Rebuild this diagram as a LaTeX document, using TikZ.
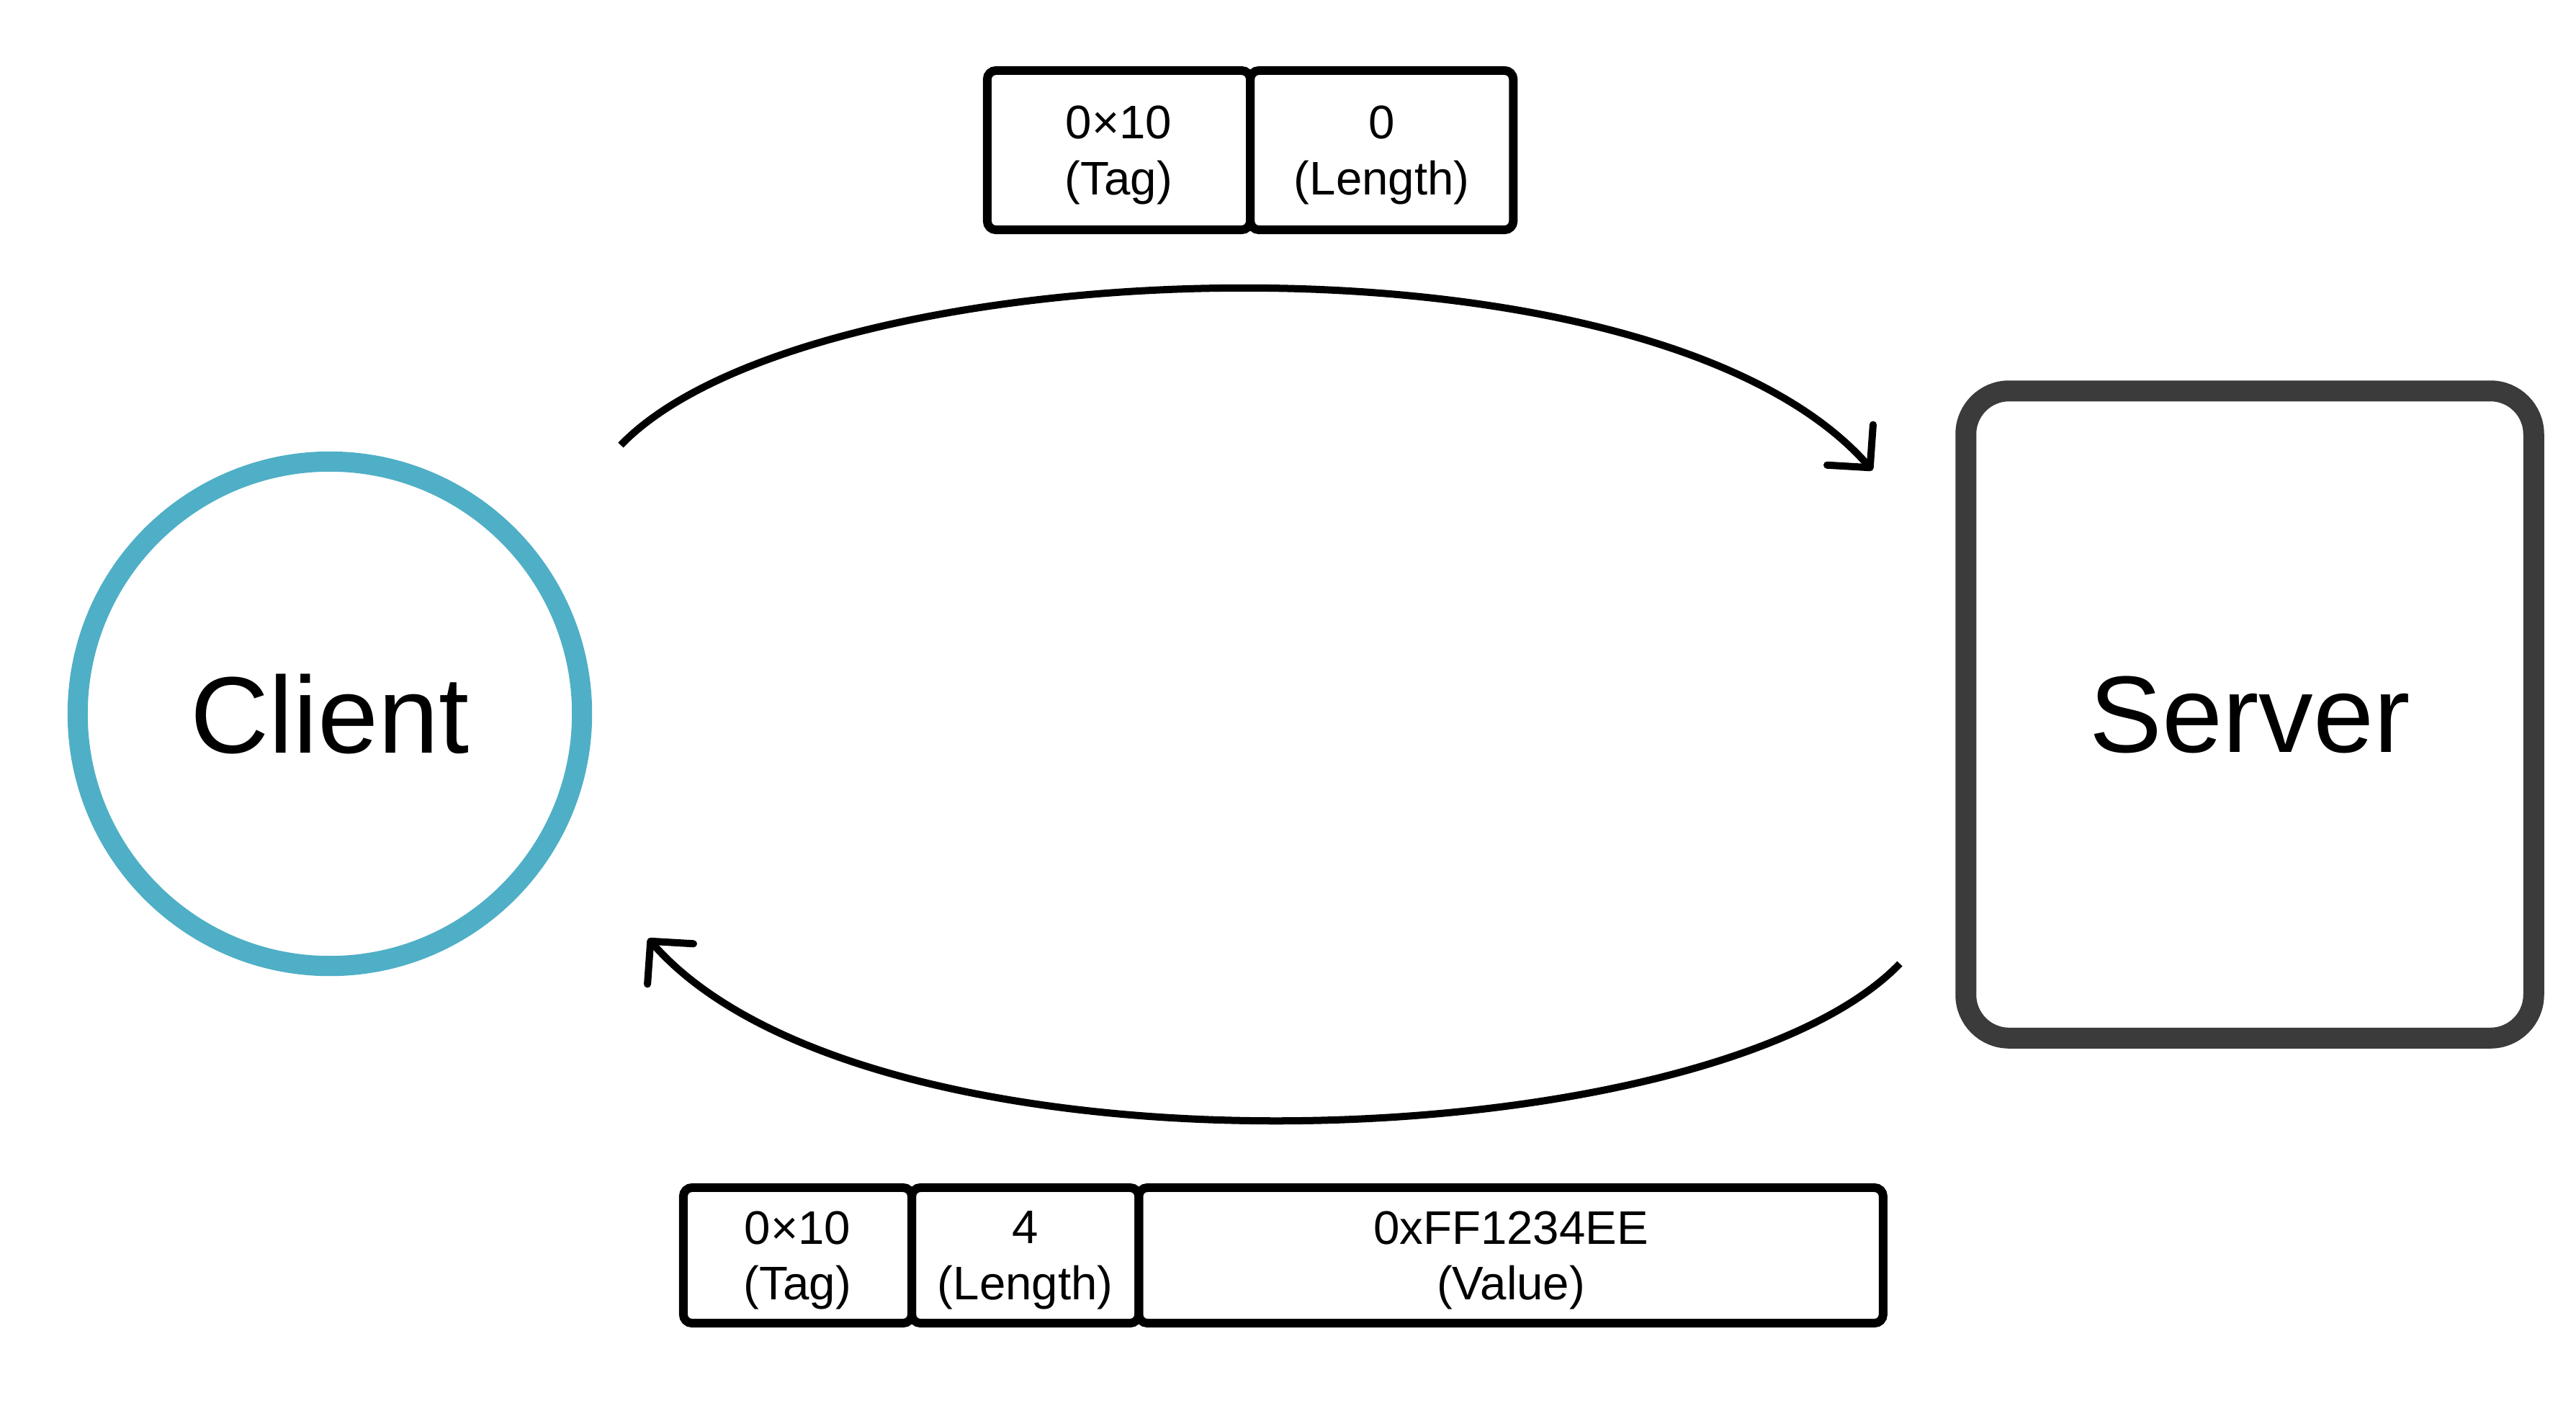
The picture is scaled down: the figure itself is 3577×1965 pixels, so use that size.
\documentclass[tikz,border=0pt]{standalone}
\usepackage{fontspec}
\setmainfont{Liberation Sans}
\usetikzlibrary{positioning,arrows.meta}
\definecolor{clientblue}{RGB}{79,175,198}
\definecolor{servergray}{RGB}{59,59,59}

\begin{document}
\begin{tikzpicture}[x=0.01cm,y=-0.01cm,
        field/.style={draw,line width=0.12cm,rounded corners=0.12cm,
            inner sep=0,outer sep=0,align=center,text depth=0pt,
            font=\fontsize{18.6}{22}\selectfont},
        toprow/.style={field,minimum height=2.21cm,minimum width=3.65cm},
        botrow/.style={field,minimum height=1.88cm},
        msg/.style={line width=0.1cm,
            -{Straight Barb[length=0.42cm,width=0.85cm,round]}}]
    \useasboundingbox (0,0) rectangle (3577,1965);

    \node[circle,draw=clientblue,line width=0.28cm,minimum size=7cm,
        font=\fontsize{43}{50}\selectfont] (client) at (458,991) {Client};
    \node[draw=servergray,line width=0.29cm,rounded corners=0.6cm,
        minimum width=7.88cm,minimum height=8.98cm,
        font=\fontsize{43}{50}\selectfont] (server) at (3124,992) {Server};

    \node[toprow] (tag1) at (1553.5,208.5) {0×10\\(Tag)};
    \node[toprow,right=0pt of tag1] (len1) {0\\(Length)};

    \node[botrow,minimum width=3.17cm] (tag2) at (1107.5,1743) {0×10\\(Tag)};
    \node[botrow,minimum width=3.15cm,right=0pt of tag2] (len2) {4\\(Length)};
    \node[botrow,minimum width=10.33cm,right=0pt of len2] (val2) {0xFF1234EE\\(Value)};

    \coordinate (reqfrom) at (862,618);
    \coordinate (reqto) at (2600,653);
    \coordinate (respfrom) at (2638,1338);
    \coordinate (respto) at (900,1303);

    \draw[msg] (reqfrom) .. controls (1125,345) and (2290,300) .. (reqto);
    \draw[msg] (respfrom) .. controls (2375,1611) and (1210,1656) .. (respto);
\end{tikzpicture}
\end{document}
